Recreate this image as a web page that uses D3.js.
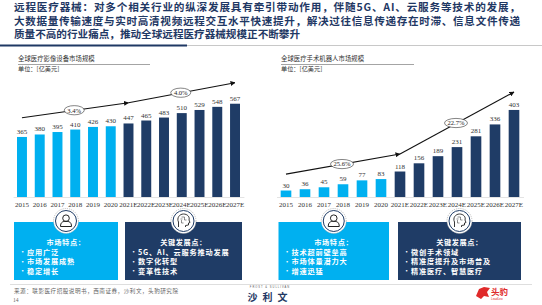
<!DOCTYPE html>
<html>
<head>
<meta charset="utf-8">
<script src="https://cdn.jsdelivr.net/npm/d3@7"></script>
<style>
  body { margin: 0; background: #fff; }
  svg { display: block; }
</style>
</head>
<body>
<div id="chart-area"></div>
<script>
// data
var years = ["2015", "2016", "2017", "2018", "2019", "2020", "2021E", "2022E", "2023E", "2024E", "2025E", "2026E", "2027E"];
var imagingValues = [365, 380, 395, 410, 426, 430, 447, 465, 483, 510, 529, 548, 567];
var robotValues = [30, 36, 45, 59, 77, 83, 118, 156, 189, 231, 281, 336, 403];
var imagingTrend = [["2015", 482], ["2021E", 573], ["2027E", 695]];
var robotTrend = [["2015", 106], ["2021E", 199], ["2027E", 486]];
var imagingCagr = ["3.4%", "4.0%"];
var robotCagr = ["25.6%", "22.7%"];

var headline = [
  "远程医疗器械：对多个相关行业的纵深发展具有牵引带动作用，伴随5G、AI、云服务等技术的发展，",
  "大数据量传输速度与实时高清视频远程交互水平快速提升，解决过往信息传递存在时滞、信息文件传递",
  "质量不高的行业痛点，推动全球远程医疗器械规模正不断攀升"
];
var panels = [
  { title: "全球医疗影像设备市场规模", values: imagingValues, trend: imagingTrend, cagr: imagingCagr,
    boxes: [
      { head: "市场特点：", items: ["应用广泛", "市场发展成熟", "稳定增长"] },
      { head: "关键发展点：", items: ["5G、AI、云服务推动发展", "数字化转型", "变革性技术"] }
    ] },
  { title: "全球医疗手术机器人市场规模", values: robotValues, trend: robotTrend, cagr: robotCagr,
    boxes: [
      { head: "市场特点：", items: ["技术超前壁垒高", "市场体量潜力大", "增速迅猛"] },
      { head: "关键发展点：", items: ["微创手术领域", "精准度提升及市场普及", "精准医疗、智慧医疗"] }
    ] }
];

var W = 542, H = 305;
var navy = "#1f3c66", lightBlue = "#00b0f0", titleColor = "#1f3864";
var cjk = "'Noto Sans CJK SC', sans-serif";
var serif = "'Liberation Serif', 'DejaVu Serif', serif";

var svg = d3.select("#chart-area")
  .append("svg")
  .attr("width", W)
  .attr("height", H);

var defs = svg.append("defs");
defs.append("marker")
  .attr("id", "arrow")
  .attr("viewBox", "0 0 10 10")
  .attr("refX", 9).attr("refY", 5)
  .attr("markerWidth", 5).attr("markerHeight", 5)
  .attr("markerUnits", "userSpaceOnUse")
  .attr("orient", "auto")
  .append("path")
  .attr("d", "M0,0 L10,5 L0,10 z")
  .attr("fill", "#111");

// headline
svg.append("g").selectAll("text")
  .data(headline)
  .enter()
  .append("text")
  .attr("x", 14)
  .attr("y", (d, i) => 11 + i * 13.5)
  .attr("font-family", cjk)
  .attr("font-weight", "bold")
  .attr("font-size", 10.6)
  .attr("fill", titleColor)
  .attr("textLength", (d, i) => i < 2 ? 506 : null)
  .attr("lengthAdjust", "spacing")
  .text(d => d);

svg.append("line")
  .attr("x1", 0).attr("x2", W).attr("y1", 45.5).attr("y2", 45.5)
  .attr("stroke", "#c8c8c8").attr("stroke-width", 1);
svg.append("line")
  .attr("x1", 0).attr("x2", 187).attr("y1", 45.5).attr("y2", 45.5)
  .attr("stroke", titleColor).attr("stroke-width", 2);

var layouts = [
  { x0: 13.1, x1: 243.9, left: 18, lineEnd: 150, ymax: 600, ytop: 98.3,
    boxes: [[14, 118], [125, 242]] },
  { x0: 276.5, x1: 523.5, left: 281, lineEnd: 414, ymax: 450, ytop: 99.8,
    boxes: [[278.5, 389], [398, 521]] }
];
var baseY = 197;

panels.forEach(function (p, k) {
  var L = layouts[k];
  var g = svg.append("g");

  g.append("text")
    .attr("x", L.left).attr("y", 61)
    .attr("font-family", cjk).attr("font-size", 6.4).attr("fill", "#333")
    .text(p.title);
  g.append("line")
    .attr("x1", L.left).attr("x2", L.lineEnd).attr("y1", 64.5).attr("y2", 64.5)
    .attr("stroke", "#666").attr("stroke-width", 0.6);
  g.append("text")
    .attr("x", L.left).attr("y", 71)
    .attr("font-family", cjk).attr("font-size", 6.2).attr("fill", "#333")
    .text("单位：[亿美元]");

  var x = d3.scaleBand()
    .domain(years)
    .range([L.x0, L.x1])
    .paddingInner(0.44)
    .paddingOuter(0.22);
  var y = d3.scaleLinear()
    .domain([0, L.ymax])
    .range([baseY, L.ytop]);

  g.selectAll("rect.bar")
    .data(p.values)
    .enter()
    .append("rect")
    .attr("class", "bar")
    .attr("x", (d, i) => x(years[i]))
    .attr("y", d => y(d))
    .attr("width", x.bandwidth())
    .attr("height", d => baseY - y(d))
    .attr("fill", (d, i) => years[i].indexOf("E") > 0 ? navy : lightBlue);

  g.selectAll("text.val")
    .data(p.values)
    .enter()
    .append("text")
    .attr("class", "val")
    .attr("x", (d, i) => x(years[i]) + x.bandwidth() / 2)
    .attr("y", d => y(d) - 3)
    .attr("text-anchor", "middle")
    .attr("font-family", serif)
    .attr("font-size", 7)
    .attr("fill", "#333")
    .text(d => d);

  var xAxis = g.append("g")
    .attr("transform", "translate(0," + baseY + ")")
    .call(d3.axisBottom(x).tickSize(0).tickPadding(5));
  xAxis.select(".domain").attr("stroke", "#d0d0d0").attr("stroke-width", 0.6);
  xAxis.selectAll("text")
    .attr("font-family", serif)
    .attr("font-size", 7)
    .attr("fill", "#333");

  // CAGR trend line
  var pts = p.trend.map(t => [x(t[0]) + x.bandwidth() / 2, y(t[1])]);
  for (var s = 0; s < pts.length - 1; s++) {
    g.append("line")
      .attr("x1", pts[s][0]).attr("y1", pts[s][1])
      .attr("x2", pts[s + 1][0]).attr("y2", pts[s + 1][1])
      .attr("stroke", "#111").attr("stroke-width", 1.1)
      .attr("marker-end", "url(#arrow)");
  }
  p.cagr.forEach(function (c, s) {
    var cx = (pts[s][0] + pts[s + 1][0]) / 2 - 1;
    var cy = (pts[s][1] + pts[s + 1][1]) / 2;
    var rx = c.length > 4 ? 11.5 : 10;
    g.append("ellipse")
      .attr("cx", cx).attr("cy", cy).attr("rx", rx).attr("ry", 4.6)
      .attr("fill", "#fff").attr("stroke", "#333").attr("stroke-width", 0.6);
    g.append("text")
      .attr("x", cx).attr("y", cy + 2.3)
      .attr("text-anchor", "middle")
      .attr("font-family", serif).attr("font-size", 6.6).attr("fill", "#222")
      .text(c);
  });

  // feature boxes
  p.boxes.forEach(function (b, j) {
    var bx = L.boxes[j];
    var cx = (bx[0] + bx[1]) / 2;
    g.append("rect")
      .attr("x", bx[0]).attr("y", 222)
      .attr("width", bx[1] - bx[0]).attr("height", 58)
      .attr("fill", j === 0 ? lightBlue : navy);
    g.append("text")
      .attr("x", cx).attr("y", 245)
      .attr("text-anchor", "middle")
      .attr("font-family", cjk).attr("font-weight", "bold")
      .attr("font-size", 7.2).attr("fill", "#fff").attr("letter-spacing", 0.6)
      .text(b.head);
    b.items.forEach(function (it, m) {
      g.append("text")
        .attr("x", bx[0] + 5).attr("y", 254 + m * 9.6)
        .attr("font-family", cjk).attr("font-size", 7.2).attr("fill", "#fff")
        .text("•");
      g.append("text")
        .attr("x", bx[0] + 13).attr("y", 254.5 + m * 9.6)
        .attr("font-family", cjk).attr("font-weight", "bold")
        .attr("font-size", 7.2).attr("fill", "#fff").attr("letter-spacing", 0.8)
        .text(it);
    });

    // icon
    var ic = g.append("g").attr("transform", "translate(" + cx + ",221)");
    ic.append("circle").attr("r", 12.5)
      .attr("fill", "#fff").attr("stroke", "#9a9a9a")
      .attr("stroke-width", 0.6).attr("stroke-dasharray", "1.2,1");
    ic.append("circle").attr("r", 10.5)
      .attr("fill", "#fff").attr("stroke", navy).attr("stroke-width", 1);
    if (j === 0) {
      ic.append("circle").attr("cx", 0).attr("cy", -2.8).attr("r", 3.3)
        .attr("fill", "none").attr("stroke", "#222").attr("stroke-width", 1);
      ic.append("path").attr("d", "M-5.5,5.5 C-5.5,1 -3,0.3 0,0.3 C3,0.3 5.5,1 5.5,5.5 Z")
        .attr("fill", "none").attr("stroke", "#222").attr("stroke-width", 1);
    } else {
      ic.append("path")
        .attr("d", "M-5,6 L-5,1 C-7,-3 -4,-7 0,-7 C4,-7 6.5,-4 5.5,-1 L6.5,1.5 L5,2 L5,4 L2,4.5 L2,6")
        .attr("fill", "none").attr("stroke", "#222").attr("stroke-width", 0.9);
      ic.append("path")
        .attr("d", "M-2,-4 L1,-4 L1,-1 L3,-1 M-2,-1 L-2,2 L0,2 M-3,-2 L-1,-2")
        .attr("fill", "none").attr("stroke", "#444").attr("stroke-width", 0.6);
    }
  });
});

// footer
svg.append("line")
  .attr("x1", 10).attr("x2", 532).attr("y1", 284.5).attr("y2", 284.5)
  .attr("stroke", "#d6d6d6").attr("stroke-width", 0.8);
svg.append("text")
  .attr("x", 14).attr("y", 293)
  .attr("font-family", cjk).attr("font-size", 5.6).attr("fill", "#666")
  .attr("letter-spacing", 0.5)
  .text("来源：联影医疗招股说明书，西南证券，沙利文，头豹研究院");
svg.append("text")
  .attr("x", 13).attr("y", 302)
  .attr("font-family", serif).attr("font-size", 5.6).attr("fill", "#666")
  .text("14");
svg.append("text")
  .attr("x", 270).attr("y", 288)
  .attr("text-anchor", "middle")
  .attr("font-family", "'Liberation Sans', sans-serif").attr("font-size", 2.6).attr("fill", "#555")
  .attr("letter-spacing", 1)
  .text("FROST & SULLIVAN");
svg.append("text")
  .attr("x", 270).attr("y", 301)
  .attr("text-anchor", "middle")
  .attr("font-family", cjk).attr("font-weight", "bold")
  .attr("font-size", 10).attr("fill", titleColor).attr("letter-spacing", 5)
  .text("沙利文");
svg.append("path")
  .attr("d", "M476,296 L479,289 L484,287 L490,288 L487,292 L489,297 L484,296 L481,299 Z")
  .attr("fill", "#e02a2a");
svg.append("text")
  .attr("x", 491).attr("y", 295)
  .attr("font-family", cjk).attr("font-weight", "bold")
  .attr("font-size", 8.5).attr("fill", "#e02a2a")
  .text("头豹");
svg.append("text")
  .attr("x", 491).attr("y", 300)
  .attr("font-family", "'Liberation Sans', sans-serif").attr("font-size", 3).attr("fill", "#e02a2a")
  .text("LeadLeo");
</script>
</body>
</html>
